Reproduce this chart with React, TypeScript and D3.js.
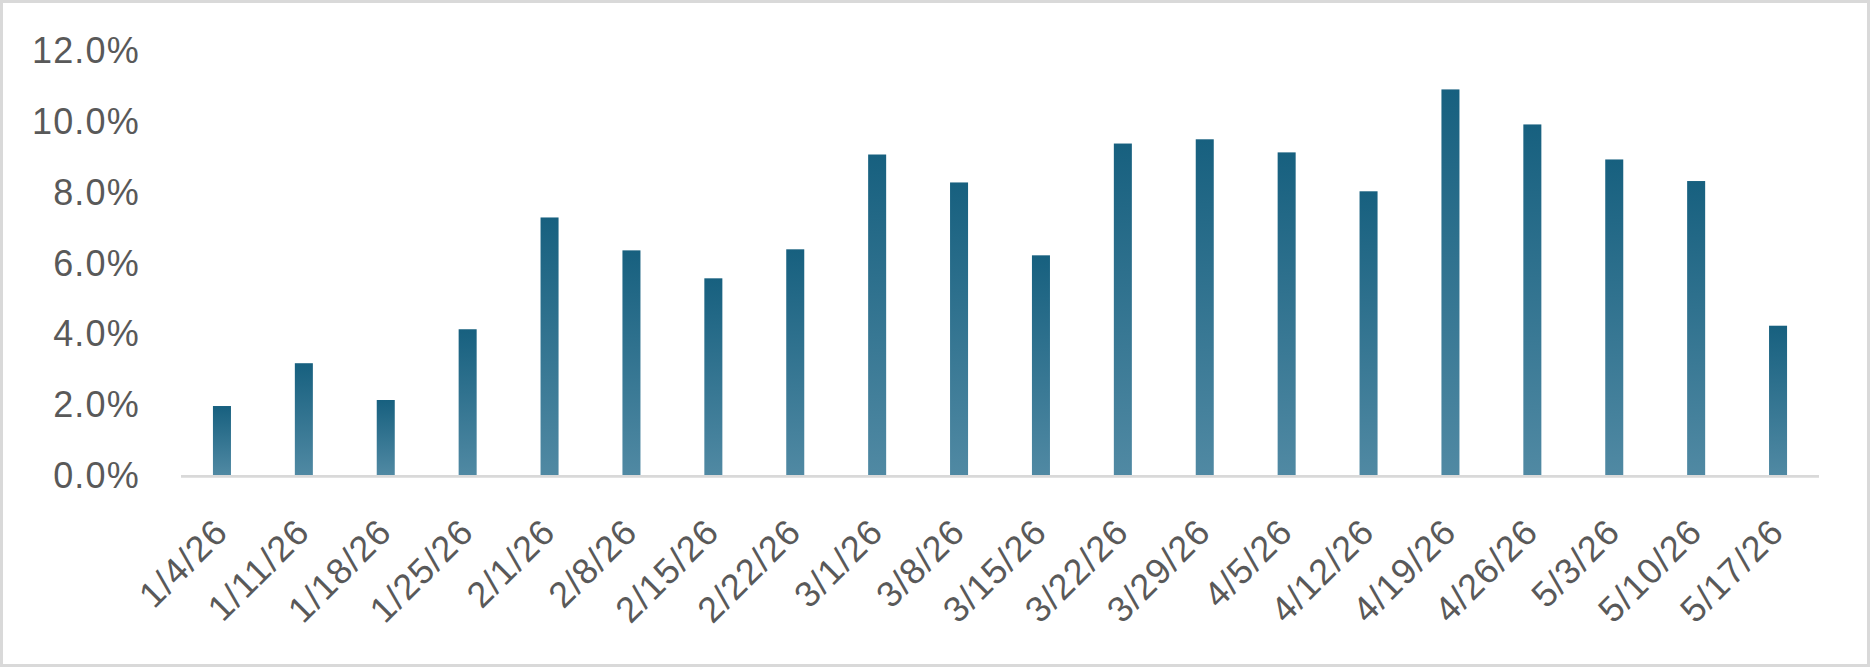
import React from "react";
import * as d3 from "d3";

const categories: string[] = [
  "1/4/26", "1/11/26", "1/18/26", "1/25/26", "2/1/26", "2/8/26", "2/15/26",
  "2/22/26", "3/1/26", "3/8/26", "3/15/26", "3/22/26", "3/29/26", "4/5/26",
  "4/12/26", "4/19/26", "4/26/26", "5/3/26", "5/10/26", "5/17/26",
];

const values: number[] = [
  0.0195, 0.0316, 0.0212, 0.0412, 0.0728, 0.0635, 0.0556,
  0.0638, 0.0906, 0.0827, 0.0621, 0.0937, 0.0949, 0.0912,
  0.0802, 0.1090, 0.0991, 0.0892, 0.0831, 0.0422,
];

const yTicks: number[] = [0, 0.02, 0.04, 0.06, 0.08, 0.1, 0.12];

const W = 1870;
const H = 667;
const FONT = "'Liberation Sans', Arial, sans-serif";
const TEXT_COLOR = "#595959";

export default function App() {
  React.useEffect(() => {
    document.body.style.margin = "0";
  }, []);

  const x = d3
    .scaleBand<string>()
    .domain(categories)
    .range([181, 1819])
    .paddingInner(0.78)
    .paddingOuter(0.39);

  const y = d3.scaleLinear().domain([0, 0.12]).range([475, 50.5]);
  const fmt = d3.format(".1%");

  return (
    <svg
      width={W}
      height={H}
      style={{ position: "absolute", left: 0, top: 0, display: "block" }}
    >
      <defs>
        <linearGradient id="barGrad" x1="0" y1="0" x2="0" y2="1">
          <stop offset="0%" stopColor="#17607f" />
          <stop offset="100%" stopColor="#5089a3" />
        </linearGradient>
      </defs>
      <rect
        x={1.5}
        y={1.5}
        width={W - 3}
        height={H - 3}
        fill="#ffffff"
        stroke="#d9d9d9"
        strokeWidth={3}
      />
      {yTicks.map((t) => (
        <text
          key={t}
          x={140}
          y={y(t)}
          dy="0.36em"
          textAnchor="end"
          fontFamily={FONT}
          fontSize={36}
          letterSpacing={1.2}
          fill={TEXT_COLOR}
        >
          {fmt(t)}
        </text>
      ))}
      {categories.map((c, i) => (
        <rect
          key={c}
          x={x(c)}
          y={y(values[i])}
          width={x.bandwidth()}
          height={y(0) - y(values[i])}
          fill="url(#barGrad)"
        />
      ))}
      <line
        x1={181}
        x2={1819}
        y1={y(0) + 1.4}
        y2={y(0) + 1.4}
        stroke="#d9d9d9"
        strokeWidth={2.8}
      />
      {categories.map((c) => {
        const cx = (x(c) as number) + x.bandwidth() / 2;
        return (
          <text
            key={c}
            transform={`translate(${cx + 8},${534}) rotate(-45)`}
            textAnchor="end"
            fontFamily={FONT}
            fontSize={36}
            letterSpacing={1.2}
            fill={TEXT_COLOR}
          >
            {c}
          </text>
        );
      })}
    </svg>
  );
}
